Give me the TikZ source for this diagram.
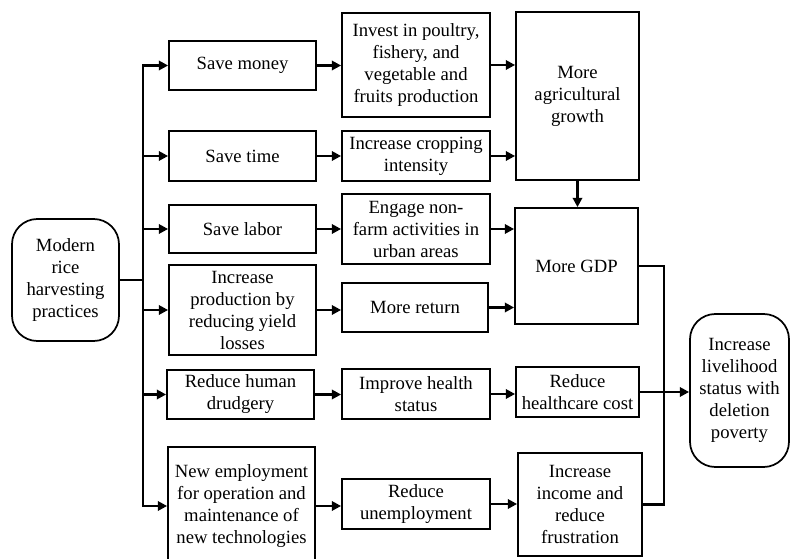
\documentclass[tikz,border=0pt]{standalone}
\usepackage{fontspec}
\setmainfont{Liberation Serif}
\usetikzlibrary{arrows.meta}

\begin{document}
\begin{tikzpicture}[x=0.75pt, y=-0.75pt, line width=1.8pt,
                    >={Triangle[length=7pt,width=7pt]},
                    box node/.style={rectangle,draw,line width=1.3pt,align=center,
                                     inner sep=1pt,font=\fontsize{14}{16.5}\selectfont},
                    end node/.style={box node,rounded corners=19pt},
                    wh/.style 2 args={minimum width=#1*0.75pt,minimum height=#2*0.75pt}]
  \useasboundingbox (0,0) rectangle (790,559);

  \node[end node, wh={107}{122}] (1) at (65.5,280) {Modern\\rice\\harvesting\\practices};

  \node[box node, wh={147}{49}]  (2) at (242.5,65.5) {Save money};
  \node[box node, wh={147}{50}]  (3) at (242.5,156)  {Save time};
  \node[box node, wh={147}{48}]  (4) at (242.5,229)  {Save labor};
  \node[box node, wh={147}{90}]  (5) at (242.5,310)  {Increase\\production by\\reducing yield\\losses};
  \node[box node, wh={147}{49}]  (6) at (240.5,394.5) {Reduce human\\drudgery};
  \node[box node, wh={147}{118}] (7) at (241.5,506)  {New employment\\for operation and\\maintenance of\\new technologies};

  \node[box node, wh={148}{104}] (8)  at (416,65)    {Invest in poultry,\\fishery, and\\vegetable and\\fruits production};
  \node[box node, wh={148}{50}]  (9)  at (416,156)   {Increase cropping\\intensity};
  \node[box node, wh={148}{70}]  (10) at (416,229)   {Engage non-\\farm activities in\\urban areas};
  \node[box node, wh={146}{49}]  (11) at (415,307.5) {More return};
  \node[box node, wh={148}{50}]  (12) at (416,394)   {Improve health\\status};
  \node[box node, wh={148}{50}]  (13) at (416,504)   {Reduce\\unemployment};

  \node[box node, wh={123}{168}] (14) at (577.5,96)  {More\\agricultural\\growth};
  \node[box node, wh={123}{116}] (15) at (576.5,266) {More GDP};
  \node[box node, wh={123}{50}]  (16) at (577.5,392) {Reduce\\healthcare cost};
  \node[box node, wh={124}{103}] (17) at (580,504.5) {Increase\\income and\\reduce\\frustration};

  \node[end node, wh={99}{153}] (18) at (739.5,390.5) {Increase\\livelihood\\status with\\deletion\\poverty};

  \coordinate (t) at (143,280);
  \coordinate (b) at (664,391);

  % trunk from the practices
  \draw (1.east) -- (t);
  \draw[line cap=rect] (t |- 2) -- (t |- 7);

  \path[->]
    (t |- 2) edge (2)
    (t |- 3) edge (3)
    (t |- 4) edge (4)
    (t |- 5) edge (5)
    (t |- 6) edge (6)
    (t |- 7) edge (7);

  \path[->]
    (2.east) edge (2.east -| 8.west)
    (3.east) edge (3.east -| 9.west)
    (4.east) edge (4.east -| 10.west)
    (5.east) edge (5.east -| 11.west)
    (6.east) edge (6.east -| 12.west)
    (7.east) edge (7.east -| 13.west);

  \path[->]
    (8.east)  edge (8.east -| 14.west)
    (9.east)  edge (9.east -| 14.west)
    (10.east) edge (10.east -| 15.west)
    (11.east) edge (11.east -| 15.west)
    (12.east) edge (12.east -| 16.west)
    (13.east) edge (13.east -| 17.west)
    (14.south) edge (14.south |- 15.north)
    (16.east) edge (16.east -| 18.west);

  % bus into livelihood
  \draw (15.east) -| (b);
  \draw (17.east) -| (b);
\end{tikzpicture}
\end{document}
